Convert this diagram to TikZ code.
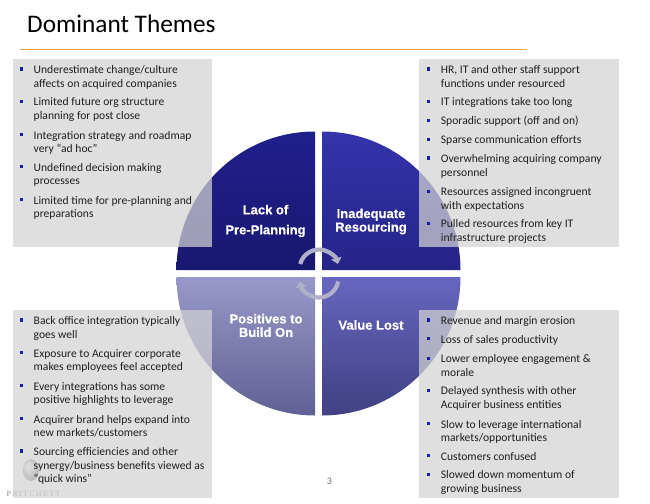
\documentclass[tikz,border=0pt]{standalone}
\usepackage{fontspec}
\setmainfont{Carlito}
\newfontfamily\labelfont[BoldFeatures={FakeBold=0.5}]{Liberation Sans}
\newfontfamily\logofont{Liberation Serif}
\usetikzlibrary{arrows.meta}
\definecolor{boxgrey}{RGB}{211,211,211}
\definecolor{bulletblue}{RGB}{20,30,170}
\definecolor{titlerule}{RGB}{242,160,70}
\definecolor{arrowgrey}{RGB}{176,176,200}
\newcommand{\bul}{\llap{\textcolor{bulletblue}{\rule[2.8pt]{3.2pt}{3.2pt}}\hspace{10.6pt}}\vphantom{Ag}}
\tikzset{
  panel/.style={fill=boxgrey,fill opacity=.72},
  bulletitem/.style={anchor=north west,inner sep=0pt,align=left,text=black!88,yshift=-1.6pt,
    font=\fontsize{11.6}{13.7}\selectfont},
  theme/.style={text=white,inner sep=0pt,align=center,
    font=\labelfont\bfseries\fontsize{13}{13.5}\selectfont},
  turn/.style={arrowgrey,line width=4.2pt,-{Triangle[width=10.5pt,length=6pt]}}
}
\begin{document}
\begin{tikzpicture}[x=1pt,y=-1pt]
\useasboundingbox (0,0) rectangle (650,503);
% title
\node[anchor=west,inner sep=0pt,font=\fontsize{25.3}{28}\selectfont] (title) at (27,24) {Dominant Themes};
\fill[titlerule] (20,48.6) rectangle (527,50.4);
% quadrants
\shade[top color={rgb,255:red,32;green,32;blue,140},bottom color={rgb,255:red,24;green,24;blue,112}]
  (315,270) -- (176.5,270) arc[start angle=180,end angle=90,radius=138.5pt] -- cycle;
\shade[top color={rgb,255:red,52;green,52;blue,172},bottom color={rgb,255:red,36;green,36;blue,136}]
  (322,270) -- (322,131.5) arc[start angle=90,end angle=0,radius=138.5pt] -- cycle;
\shade[top color={rgb,255:red,152;green,152;blue,202},bottom color={rgb,255:red,96;green,96;blue,148}]
  (315,277) -- (176.5,277) arc[start angle=180,end angle=270,radius=138.5pt] -- cycle;
\shade[top color={rgb,255:red,102;green,102;blue,192},bottom color={rgb,255:red,64;green,64;blue,130}]
  (322,277) -- (322,415.5) arc[start angle=270,end angle=360,radius=138.5pt] -- cycle;
% logo
\shade[ball color=black!22,opacity=.7] (31,470) ellipse (8pt and 11pt);
\node[inner sep=0pt,text=black!45,font=\logofont\fontsize{8}{9}\selectfont] (logo) at (33.5,494) {P\,R\,I\,T\,C\,H\,E\,T\,T};
% panels
\fill[panel] (13,59) rectangle (212,247);
\fill[panel] (419,59) rectangle (619,247);
\fill[panel] (13,310) rectangle (212,498);
\fill[panel] (419,310) rectangle (619,498);
% turning arrows
\draw[turn] (300.2,264) arc[start angle=165,end angle=15,radius=19.5pt];
\draw[turn] (338.2,281.4) arc[start angle=-10,end angle=-170,radius=19.5pt];
% quadrant labels
\node[theme] (lack) at (265.5,221) {Lack of\\[6.5pt]Pre-Planning};
\node[theme] (inadequate) at (371,221.5) {Inadequate\\Resourcing};
\node[theme] (positives) at (266,325.5) {Positives to\\Build On};
\node[theme] (valuelost) at (371,325) {Value Lost};
% top left
\node[bulletitem] (a1) at (33.5,63.5) {\bul Underestimate change/culture\\affects on acquired companies};
\node[bulletitem] (a2) at (33.5,96) {\bul Limited future org structure\\planning for post close};
\node[bulletitem] (a3) at (33.5,129.3) {\bul Integration strategy and roadmap\\very ``ad hoc''};
\node[bulletitem] (a4) at (33.5,161.3) {\bul Undefined decision making\\processes};
\node[bulletitem] (a5) at (33.5,194.3) {\bul Limited time for pre-planning and\\preparations};
% top right
\node[bulletitem] (b1) at (440.7,63.5) {\bul HR, IT and other staff support\\functions under resourced};
\node[bulletitem] (b2) at (440.7,96) {\bul IT integrations take too long};
\node[bulletitem] (b3) at (440.7,114.6) {\bul Sporadic support (off and on)};
\node[bulletitem] (b4) at (440.7,134) {\bul Sparse communication efforts};
\node[bulletitem] (b5) at (440.7,152.6) {\bul Overwhelming acquiring company\\personnel};
\node[bulletitem] (b6) at (440.7,186) {\bul Resources assigned incongruent\\with expectations};
\node[bulletitem] (b7) at (440.7,218) {\bul Pulled resources from key IT\\infrastructure projects};
% bottom left
\node[bulletitem] (c1) at (33.5,314.6) {\bul Back office integration typically\\goes well};
\node[bulletitem] (c2) at (33.5,347.3) {\bul Exposure to Acquirer corporate\\makes employees feel accepted};
\node[bulletitem] (c3) at (33.5,380.3) {\bul Every integrations has some\\positive highlights to leverage};
\node[bulletitem] (c4) at (33.5,413.3) {\bul Acquirer brand helps expand into\\new markets/customers};
\node[bulletitem] (c5) at (33.5,445.6) {\bul Sourcing efficiencies and other\\synergy/business benefits viewed as\\``quick wins''};
% bottom right
\node[bulletitem] (d1) at (440.7,314.6) {\bul Revenue and margin erosion};
\node[bulletitem] (d2) at (440.7,333.3) {\bul Loss of sales productivity};
\node[bulletitem] (d3) at (440.7,353) {\bul Lower employee engagement \&\\morale};
\node[bulletitem] (d4) at (440.7,385) {\bul Delayed synthesis with other\\Acquirer business entities};
\node[bulletitem] (d5) at (440.7,418.3) {\bul Slow to leverage international\\markets/opportunities};
\node[bulletitem] (d6) at (440.7,450.3) {\bul Customers confused};
\node[bulletitem] (d7) at (440.7,469) {\bul Slowed down momentum of\\growing business};
% page number
\node[inner sep=0pt,text=black!55,font=\fontsize{10}{11}\selectfont] (pagenum) at (329.5,481.5) {3};
\end{tikzpicture}
\end{document}
